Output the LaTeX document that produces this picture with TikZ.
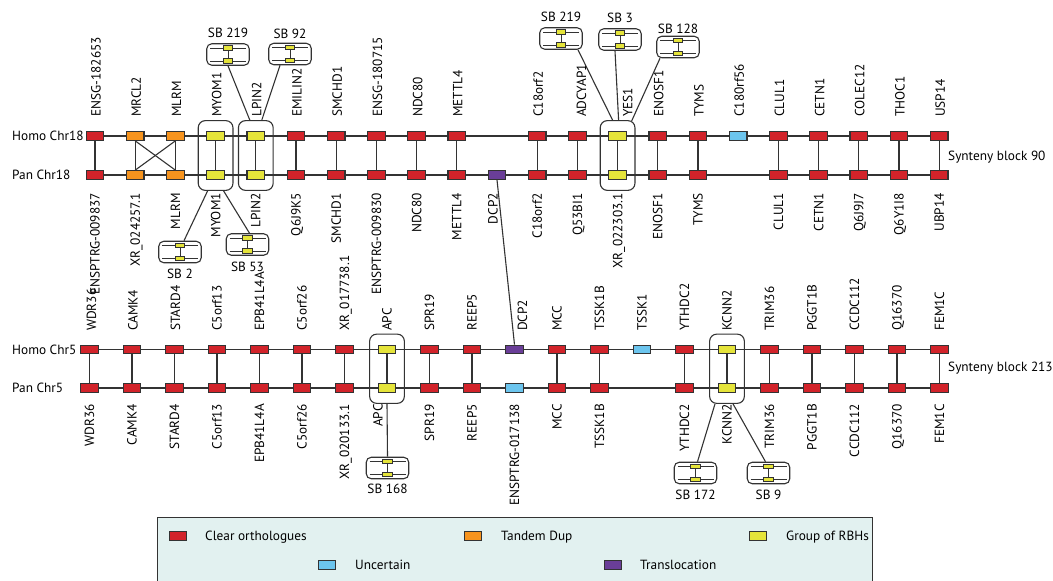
\documentclass[tikz,border=0pt]{standalone}
\usepackage{fontspec}
\setmainfont{PT Sans}
\usetikzlibrary{backgrounds,fit,calc}

\definecolor{ortho}{HTML}{D2232A}
\definecolor{tandem}{HTML}{F7941E}
\definecolor{rbh}{HTML}{E5E43A}
\definecolor{uncert}{HTML}{6CC5EE}
\definecolor{transloc}{HTML}{6A3E98}
\definecolor{ink}{HTML}{333333}
\definecolor{legendbg}{HTML}{E2F1F0}

\newcommand\genefont{\fontsize{13.3}{15}\selectfont}

\tikzset{
  gene/.style={draw=ink, line width=1.2pt, minimum width=17.5pt, minimum height=8.5pt, inner sep=0pt},
  minigene/.style={draw=ink, fill=rbh, line width=0.8pt, minimum width=9.5pt, minimum height=4.5pt, inner sep=0pt},
  wire/.style={draw=ink, line width=1.1pt},
  sbwire/.style={draw=ink, line width=0.9pt},
  toplab/.style={rotate=90, anchor=west, inner sep=0pt, font=\genefont, text height=9.3pt, text depth=0pt},
  botlab/.style={rotate=90, anchor=east, inner sep=0pt, font=\genefont, text height=9.3pt, text depth=0pt},
  txt/.style={inner sep=0pt, font=\genefont},
  grp/.style={draw=ink, line width=1.1pt, rounded corners=7pt, inner xsep=8pt, inner ysep=10.5pt},
  sbframe/.style={draw=ink, line width=1.1pt, rounded corners=5pt, minimum width=42.5pt, minimum height=21.5pt, inner sep=0pt},
}

% small synteny-block icon: name, x, y, caption, caption y
\newcommand\sbicon[5]{%
  \node[sbframe] (#1) at (#2,#3) {};
  \draw[sbwire] ({#2-18},{#3-6.5}) -- ({#2+18},{#3-6.5});
  \draw[sbwire] ({#2-18},{#3+6.5}) -- ({#2+18},{#3+6.5});
  \draw[sbwire] (#2,{#3-6.5}) -- (#2,{#3+6.5});
  \node[minigene] (#1-u) at (#2,{#3-6.5}) {};
  \node[minigene] (#1-d) at (#2,{#3+6.5}) {};
  \node[txt] (#1-lab) at (#2,#5) {#4};
}

\begin{document}
\begin{tikzpicture}[x=1pt, y=-1pt]
\useasboundingbox (0,0) rectangle (1053,581);
\clip (0,0) rectangle (1053,581);

% ---------- chromosome 18 ----------
\node[txt, anchor=west] (homo18) at (12,136) {Homo Chr18};
\node[txt, anchor=west] (pan18) at (12,175) {Pan Chr18};

\foreach \i/\t/\c/\d in {0/ENSG-182653/ortho/0, 1/MRCL2/tandem/0, 2/MLRM/tandem/0,
    3/MYOM1/rbh/0, 4/LPIN2/rbh/0, 5/EMILIN2/ortho/0, 6/SMCHD1/ortho/0,
    7/ENSG-180715/ortho/0, 8/NDC80/ortho/0, 9/METTL4/ortho/0, 11/C18orf2/ortho/0,
    12/ADCYAP1/ortho/3, 13/YES1/rbh/9, 14/ENOSF1/ortho/0, 15/TYMS/ortho/0,
    16/C180rf56/uncert/0, 17/CLUL1/ortho/0, 18/CETN1/ortho/0, 19/COLEC12/ortho/0,
    20/THOC1/ortho/0, 21/USP14/ortho/0} {
  \node[gene, fill=\c] (h18-\i) at ({95+40.2*\i},136) {};
  \node[toplab] (lh18-\i) at ({95+40.2*\i+1+\d},117) {\t};
}

\foreach \i/\t/\c/\d in {0/ENSPTRG-009837/ortho/0, 1/XR\_024257.1/tandem/0, 2/MLRM/tandem/0,
    3/MYOM1/rbh/0, 4/LPIN2/rbh/0, 5/Q6J9K5/ortho/0, 6/SMCHD1/ortho/0,
    7/ENSPTRG-009830/ortho/0, 8/NDC80/ortho/0, 9/METTL4/ortho/0, 10/DCP2/transloc/-4,
    11/C18orf2/ortho/0, 12/Q53BI1/ortho/0, 13/XR\_022303.1/rbh/0, 14/ENOSF1/ortho/0,
    15/TYMS/ortho/0, 17/CLUL1/ortho/0, 18/CETN1/ortho/0, 19/Q6J9J7/ortho/0,
    20/Q6Y1I8/ortho/0, 21/UBP14/ortho/0} {
  \node[gene, fill=\c] (p18-\i) at ({95+40.2*\i},175) {};
  \node[botlab] (lp18-\i) at ({95+40.2*\i+\d},193) {\t};
}

\node[txt, anchor=base west] (sb90) at (948,160) {Synteny block 90};

% ---------- chromosome 5 ----------
\node[txt, anchor=west] (homo5) at (12,349.5) {Homo Chr5};
\node[txt, anchor=west] (pan5) at (12,388) {Pan Chr5};

\foreach \i/\t/\c/\d in {0/WDR36/ortho/2, 1/CAMK4/ortho/1, 2/STARD4/ortho/1,
    3/C5orf13/ortho/0, 4/EPB41L4A/ortho/0, 5/C5orf26/ortho/0, 6/XR\_017738.1/ortho/0,
    7/APC/rbh/0, 8/SPR19/ortho/0, 9/REEP5/ortho/0, 10/DCP2/transloc/8, 11/MCC/ortho/0,
    12/TSSK1B/ortho/0, 13/TSSK1/uncert/0, 14/YTHDC2/ortho/0, 15/KCNN2/rbh/0,
    16/TRIM36/ortho/0, 17/PGGT1B/ortho/0, 18/CCDC112/ortho/0, 19/Q16370/ortho/0,
    20/FEM1C/ortho/0} {
  \node[gene, fill=\c] (h5-\i) at ({89.5+42.5*\i},349.5) {};
  \node[toplab] (lh5-\i) at ({89.5+42.5*\i+\d},331) {\t};
}

\foreach \i/\t/\c/\d in {0/WDR36/ortho/0, 1/CAMK4/ortho/0, 2/STARD4/ortho/0,
    3/C5orf13/ortho/0, 4/EPB41L4A/ortho/0, 5/C5orf26/ortho/0, 6/XR\_020133.1/ortho/0,
    7/APC/rbh/-9, 8/SPR19/ortho/0, 9/REEP5/ortho/0, 10/ENSPTRG-017138/uncert/0,
    11/MCC/ortho/0, 12/TSSK1B/ortho/0, 14/YTHDC2/ortho/0, 15/KCNN2/rbh/0,
    16/TRIM36/ortho/0, 17/PGGT1B/ortho/0, 18/CCDC112/ortho/0, 19/Q16370/ortho/0,
    20/FEM1C/ortho/0} {
  \node[gene, fill=\c] (p5-\i) at ({89.5+42.5*\i},388) {};
  \node[botlab] (lp5-\i) at ({89.5+42.5*\i+\d},404) {\t};
}

\node[txt, anchor=base west] (sb213) at (948,371) {Synteny block 213};

% page ground, chromosome backbones, behind the gene boxes
\begin{pgfonlayer}{background}
  \fill[white] (0,0) rectangle (1053,581);
  \draw[wire] (h18-0.center) -- (h18-21.center);
  \draw[wire] (p18-0.center) -- (p18-21.center);
  \draw[wire] (h5-0.center) -- (h5-20.center);
  \draw[wire] (p5-0.center) -- (p5-20.center);
\end{pgfonlayer}

% orthologue links
\foreach \i in {0,...,9,11,12,13,14,15,17,18,19,20,21}
  \draw[wire] (h18-\i.south) -- (p18-\i.north);
\draw[wire] (h18-1.south) -- (p18-2.north);
\draw[wire] (h18-2.south) -- (p18-1.north);

\foreach \i in {0,...,9,11,12,14,15,16,17,18,19,20}
  \draw[wire] (h5-\i.south) -- (p5-\i.north);

% translocated DCP2
\draw[wire] (p18-10.south) -- (h5-10.north);

% groups of reciprocal best hits
\node[grp, fit=(h18-3)(p18-3)] (g18-3) {};
\node[grp, fit=(h18-4)(p18-4)] (g18-4) {};
\node[grp, fit=(h18-13)(p18-13)] (g18-13) {};
\node[grp, fit=(h5-7)(p5-7)] (g5-7) {};
\node[grp, fit=(h5-15)(p5-15)] (g5-15) {};

% related synteny blocks
\sbicon{sb219a}{228}{54.5}{SB 219}{33}
\sbicon{sb92}{290}{54}{SB 92}{34}
\sbicon{sb2}{180}{252}{SB 2}{274}
\sbicon{sb53}{247.5}{244.5}{SB 53}{267}
\sbicon{sb219b}{561}{38.5}{SB 219}{16.5}
\sbicon{sb3}{620}{39.5}{SB 3}{18}
\sbicon{sb128}{678}{47}{SB 128}{28.5}
\sbicon{sb168}{387.5}{468}{SB 168}{489}
\sbicon{sb172}{695.5}{473}{SB 172}{495}
\sbicon{sb9}{768.5}{473}{SB 9}{495}

\draw[wire] (sb219a.south) -- ([xshift=-6pt]g18-4.north);
\draw[wire] ([xshift=-10pt]sb92.south) -- ([xshift=6pt]g18-4.north);
\draw[wire] ([xshift=4pt]sb2.north) -- ([xshift=-8pt]g18-3.south);
\draw[wire] ([xshift=2pt]sb53.north) -- ([xshift=8pt]g18-3.south);
\draw[wire] ([xshift=17pt]sb219b.south) -- ([xshift=-5pt]g18-13.north);
\draw[wire] ([xshift=-5pt]sb3.south) -- ([xshift=1pt]g18-13.north);
\draw[wire] ([xshift=-18pt]sb128.south) -- ([xshift=14pt,yshift=-1pt]g18-13.north);
\draw[wire] (g5-7.south) -- (sb168.north);
\draw[wire] ([xshift=2pt]sb172.north) -- ([xshift=-12pt]g5-15.south);
\draw[wire] ([xshift=-3pt]sb9.north) -- ([xshift=6pt]g5-15.south);

% ---------- legend ----------
\node[draw=ink, fill=legendbg, line width=1.2pt, minimum width=715pt, minimum height=85pt,
      inner sep=0pt, anchor=north west] (legend) at (157,517) {};
\node[gene, fill=ortho] (k-ortho) at (178,536) {};
\node[txt, anchor=base west] (t-ortho) at (205,540.5) {Clear orthologues};
\node[gene, fill=tandem] (k-tandem) at (473,536) {};
\node[txt, anchor=base west] (t-tandem) at (501,540.5) {Tandem Dup};
\node[gene, fill=rbh] (k-rbh) at (758,536) {};
\node[txt, anchor=base west] (t-rbh) at (786,540.5) {Group of RBHs};
\node[gene, fill=uncert] (k-uncert) at (327,565) {};
\node[txt, anchor=base west] (t-uncert) at (355,569.5) {Uncertain};
\node[gene, fill=transloc] (k-transloc) at (613,565) {};
\node[txt, anchor=base west] (t-transloc) at (640,569.5) {Translocation};
\end{tikzpicture}
\end{document}
